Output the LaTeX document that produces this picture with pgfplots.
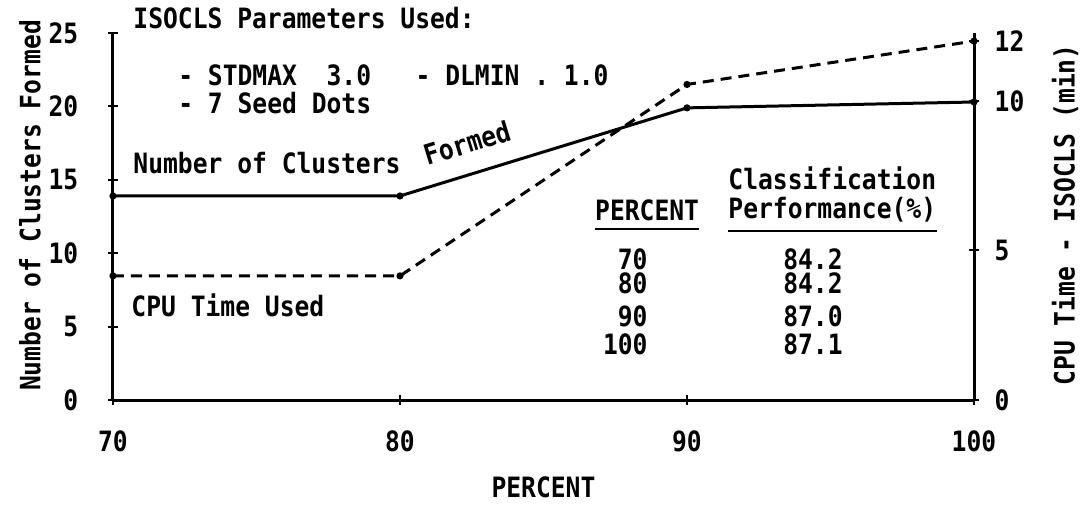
\documentclass[border=0pt]{standalone}
\usepackage{fontspec}
\setmainfont{DejaVu Sans Mono}[FakeStretch=0.88]
\usepackage{pgfplots}
\pgfplotsset{compat=1.18}
\begin{document}
\bfseries\fontsize{14}{16}\selectfont
\begin{tikzpicture}[ann/.style={inner sep=0pt}]
\begin{axis}[
  at={(0,0)}, anchor=south west, scale only axis,
  width=430.5pt, height=183.5pt,
  xmin=70, xmax=100, ymin=0, ymax=25,
  axis x line*=bottom, axis y line*=left,
  axis line style={line width=1.5pt, -},
  xtick={70,80,90,100}, ytick={0,5,10,15,20,25},
  tick align=center, major tick length=5pt,
  tick style={line width=1pt, black},
  xticklabel style={yshift=-8pt},
  yticklabel style={xshift=-10pt},
  /pgf/number format/assume math mode=true,
  xlabel={PERCENT},
  xlabel style={at={(axis description cs:0.5,0)}, anchor=center, yshift=-43.5pt},
  clip=false,
]
\addplot[line width=1.5pt, black, mark=*, mark size=1pt] coordinates {(70,13.9) (80,13.9) (90,19.9) (100,20.3)};
\node[rotate=90] at ([xshift=-41.5pt]rel axis cs:0,0.53) {Number of Clusters Formed};
\node[ann, anchor=west] at (axis cs:70.70,26.0) {ISOCLS Parameters Used:};
\node[ann, anchor=west] at (axis cs:72.26,22.14) {-\ STDMAX\ \ 3.0\ \ \ -\ DLMIN\ .\ 1.0};
\node[ann, anchor=west] at (axis cs:72.26,20.23) {- 7 Seed Dots};
\node[ann, anchor=west] at (axis cs:70.70,16.14) {Number of Clusters};
\node[ann, rotate=17] at (axis cs:82.33,17.51) {Formed};
\node[ann, anchor=west] at (axis cs:70.63,6.47) {CPU Time Used};
\node[ann, anchor=west] at (axis cs:91.43,15.12) {Classification};
\node[ann] (pc) at (axis cs:88.61,12.94) {PERCENT};
\node[ann, anchor=west] (pf) at (axis cs:91.43,12.94) {Performance(\%)};
\draw[line width=1pt] ([yshift=-4pt]pc.south west) -- ([yshift=-4pt]pc.south east);
\draw[line width=1pt] ([yshift=-4pt]pf.south west) -- ([yshift=-4pt]pf.south east);
\node[ann, anchor=east] at (axis cs:88.64,9.60) {70};
\node[ann, anchor=east] at (axis cs:88.64,7.97) {80};
\node[ann, anchor=east] at (axis cs:88.64,5.72) {90};
\node[ann, anchor=east] at (axis cs:88.64,3.81) {100};
\node[ann, anchor=west] at (axis cs:93.34,9.60) {84.2};
\node[ann, anchor=west] at (axis cs:93.34,7.97) {84.2};
\node[ann, anchor=west] at (axis cs:93.34,5.72) {87.0};
\node[ann, anchor=west] at (axis cs:93.34,3.81) {87.1};
\end{axis}
\begin{axis}[
  at={(0,0)}, anchor=south west, scale only axis,
  width=430.5pt, height=183.5pt,
  xmin=70, xmax=100, ymin=0, ymax=12.27,
  axis x line=none, axis y line*=right,
  axis line style={line width=1.5pt, -},
  ytick={0,5,10,12},
  tick align=center, major tick length=5pt,
  tick style={line width=1pt, black},
  yticklabel style={xshift=3pt},
  /pgf/number format/assume math mode=true,
  clip=false,
]
\addplot[line width=1.5pt, black, dash pattern=on 5.5pt off 3.5pt, mark=*, mark size=1pt, mark options={solid}] coordinates {(70,4.15) (80,4.15) (90,10.55) (100,12.0)};
\node[rotate=90] at ([xshift=45.5pt]rel axis cs:1,0.504) {CPU Time - ISOCLS (min)};
\end{axis}
\pgfresetboundingbox
\useasboundingbox (-56.5pt,-52.5pt) rectangle (485.5pt,200pt);
\end{tikzpicture}
\end{document}
